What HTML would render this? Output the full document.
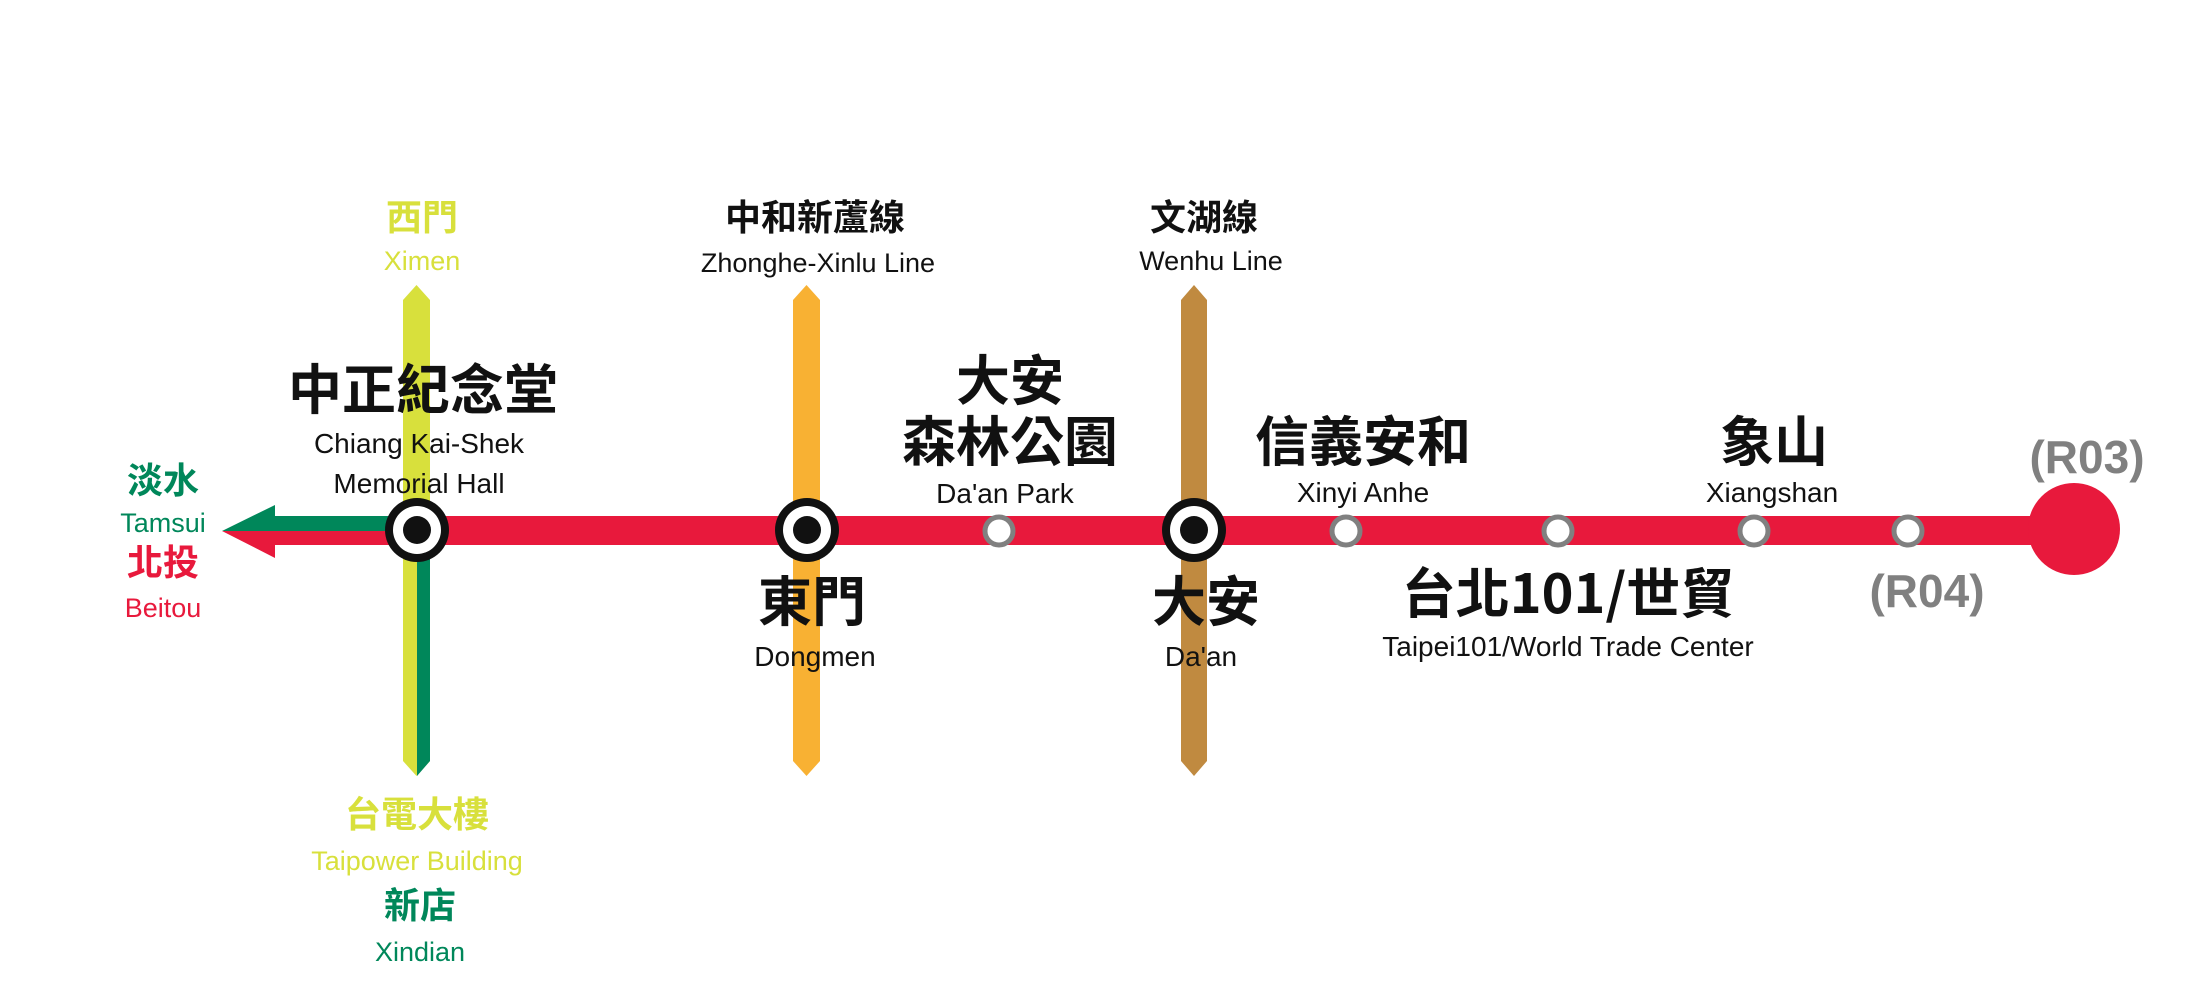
<!DOCTYPE html>
<html><head><meta charset="utf-8"><style>
html,body{margin:0;padding:0;background:#fff;}
svg{display:block;}
text{font-family:"Liberation Sans","Noto Sans CJK TC",sans-serif;text-anchor:middle;}
.cj{font-family:"Noto Sans CJK TC","WenQuanYi Zen Hei",sans-serif;font-weight:bold;}
</style></head><body>
<svg width="2204" height="1004" viewBox="0 0 2204 1004" xmlns="http://www.w3.org/2000/svg">
<polygon points="403,300 416.5,285 430,300 430,761 416.5,776 403,761" fill="#d8e03c"/>
<polygon points="417,530 430,530 430,761 417,776" fill="#00875a"/>
<polygon points="793,300 806.5,285 820,300 820,761 806.5,776 793,761" fill="#f8b133"/>
<polygon points="1181,300 1194,285 1207,300 1207,761 1194,776 1181,761" fill="#c08a40"/>
<rect x="270" y="516" width="1810" height="29" fill="#e8193c"/>
<rect x="270" y="516" width="150" height="15" fill="#00875a"/>
<polygon points="222,531 275,505 275,531" fill="#00875a"/>
<polygon points="222,531 275,531 275,558" fill="#e8193c"/>
<circle cx="2074" cy="529" r="46" fill="#e8193c"/>
<g>
<circle cx="417" cy="530" r="32" fill="#111"/><circle cx="417" cy="530" r="24" fill="#fff"/><circle cx="417" cy="530" r="14" fill="#111"/>
<circle cx="807" cy="530" r="32" fill="#111"/><circle cx="807" cy="530" r="24" fill="#fff"/><circle cx="807" cy="530" r="14" fill="#111"/>
<circle cx="1194" cy="530" r="32" fill="#111"/><circle cx="1194" cy="530" r="24" fill="#fff"/><circle cx="1194" cy="530" r="14" fill="#111"/>
</g>
<g fill="#fff" stroke="#808080" stroke-width="5">
<circle cx="999" cy="531" r="14"/><circle cx="1346" cy="531" r="14"/><circle cx="1558" cy="531" r="14"/><circle cx="1754" cy="531" r="14"/><circle cx="1908" cy="531" r="14"/>
</g>
<g fill="#d8e03c">
<text x="422" y="230" font-size="36" class="cj">西門</text>
<text x="422" y="270" font-size="27">Ximen</text>
<text x="417" y="827" font-size="36" class="cj">台電大樓</text>
<text x="417" y="870" font-size="27">Taipower Building</text>
</g>
<g fill="#00875a">
<text x="163" y="493" font-size="36" class="cj">淡水</text>
<text x="163" y="532" font-size="27">Tamsui</text>
<text x="420" y="918" font-size="36" class="cj">新店</text>
<text x="420" y="961" font-size="27">Xindian</text>
</g>
<g fill="#e8193c">
<text x="163" y="575" font-size="36" class="cj">北投</text>
<text x="163" y="617" font-size="27">Beitou</text>
</g>
<g fill="#111">
<text x="815" y="230" font-size="36" class="cj">中和新蘆線</text>
<text x="818" y="272" font-size="27">Zhonghe-Xinlu Line</text>
<text x="1204" y="230" font-size="36" class="cj">文湖線</text>
<text x="1211" y="270" font-size="27">Wenhu Line</text>
<text x="423" y="409" font-size="54" class="cj">中正紀念堂</text>
<text x="419" y="453" font-size="28">Chiang Kai-Shek</text>
<text x="419" y="493" font-size="28">Memorial Hall</text>
<text x="1010" y="400" font-size="54" class="cj">大安</text>
<text x="1010" y="461" font-size="54" class="cj">森林公園</text>
<text x="1005" y="503" font-size="28">Da'an Park</text>
<text x="812" y="621" font-size="54" class="cj">東門</text>
<text x="815" y="666" font-size="28">Dongmen</text>
<text x="1206" y="621" font-size="54" class="cj">大安</text>
<text x="1201" y="666" font-size="28">Da'an</text>
<text x="1363" y="461" font-size="54" class="cj">信義安和</text>
<text x="1363" y="502" font-size="28">Xinyi Anhe</text>
<text x="1774" y="461" font-size="54" class="cj">象山</text>
<text x="1772" y="502" font-size="28">Xiangshan</text>
<text x="1568" y="613" font-size="54" class="cj">台北101/世貿</text>
<text x="1568" y="656" font-size="28">Taipei101/World Trade Center</text>
</g>
<g fill="#808080" font-weight="bold">
<text x="1927" y="607" font-size="46">(R04)</text>
<text x="2087" y="473" font-size="46">(R03)</text>
</g>
</svg>
</body></html>
